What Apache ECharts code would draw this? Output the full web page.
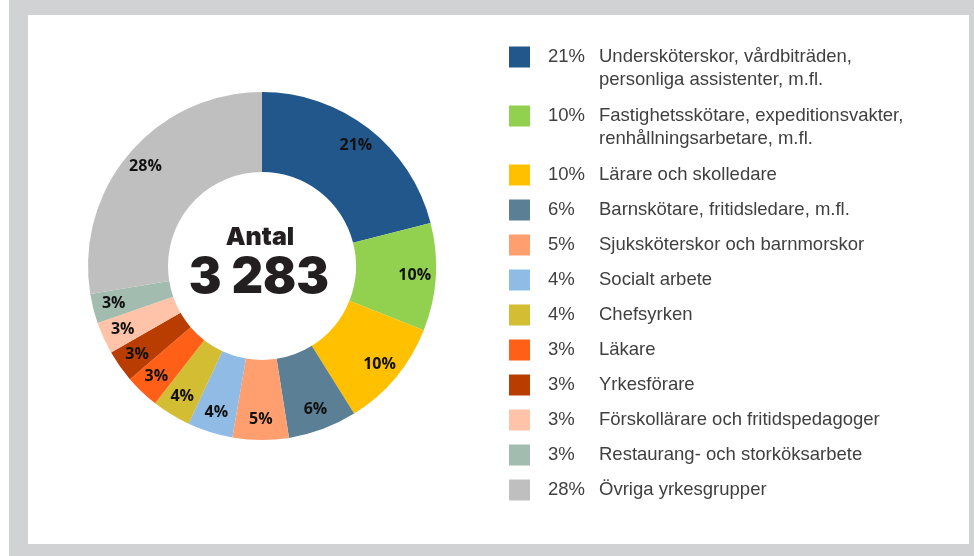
<!DOCTYPE html>
<html>
<head>
<meta charset="utf-8">
<script src="https://cdn.jsdelivr.net/npm/echarts@6/dist/echarts.min.js"></script>
<style>
  html, body { margin: 0; padding: 0; background: #fff; }
  #chart { width: 974px; height: 556px; }
</style>
</head>
<body>
<div id="chart"></div>
<script>
// yrkesgrupper, antal personer (totalt 3 283)
var categories = [
    'Undersköterskor, vårdbiträden,\npersonliga assistenter, m.fl.',
    'Fastighetsskötare, expeditionsvakter,\nrenhållningsarbetare, m.fl.',
    'Lärare och skolledare',
    'Barnskötare, fritidsledare, m.fl.',
    'Sjuksköterskor och barnmorskor',
    'Socialt arbete',
    'Chefsyrken',
    'Läkare',
    'Yrkesförare',
    'Förskollärare och fritidspedagoger',
    'Restaurang- och storköksarbete',
    'Övriga yrkesgrupper'
];
var values = [690, 328, 332, 210, 171, 138, 118, 105, 98, 98, 90, 905];
var colors = ['#22578b', '#92d050', '#ffc000', '#5b7f94', '#ff9e6e', '#8fbbe5',
              '#d3bd33', '#ff5f17', '#b93c00', '#ffc3a9', '#a2bcaf', '#bfbfbf'];
var centerTitle = 'Antal';

var total = values.reduce(function (a, b) { return a + b; }, 0);
function pct(v) { return Math.round(v / total * 100) + '%'; }
function fmtTotal(n) { return String(n).replace(/\B(?=(\d{3})+(?!\d))/g, ' '); }

var myChart = echarts.init(document.getElementById('chart'));

var pieData = categories.map(function (c, i) {
    return { name: c, value: values[i], itemStyle: { color: colors[i] } };
});

// ram + vit platta
var graphics = [
    { type: 'rect', silent: true, z: -10, shape: { x: 9, y: 0, width: 965, height: 556 }, style: { fill: '#d1d2d4' } },
    { type: 'rect', silent: true, z: -9, shape: { x: 28, y: 15, width: 941, height: 529 }, style: { fill: '#ffffff' } },
    { type: 'text', silent: true, x: 260, y: 237, style: {
        text: centerTitle, fill: '#231f20', font: '900 25px Inter', align: 'center', verticalAlign: 'middle' } },
    { type: 'text', silent: true, x: 259, y: 278, style: {
        text: fmtTotal(total), fill: '#231f20', font: '900 49px Inter', align: 'center', verticalAlign: 'middle' } }
];

// förklaring till höger
var y = 57;
categories.forEach(function (c, i) {
    var lines = c.split('\n').length;
    graphics.push({ type: 'rect', silent: true, shape: { x: 509, y: y - 10.5, width: 21, height: 21 },
        style: { fill: colors[i] } });
    graphics.push({ type: 'text', silent: true, x: 548, y: y, style: {
        text: pct(values[i]), fill: '#404040', font: '18.5px "Liberation Sans"', verticalAlign: 'middle' } });
    graphics.push({ type: 'text', silent: true, x: 599, y: y - 11.5, style: {
        text: c, fill: '#404040', font: '18.5px "Liberation Sans"', lineHeight: 23, verticalAlign: 'top' } });
    y += lines > 1 ? 59 : 35;
});

var option = {
    backgroundColor: '#ffffff',
    animation: false,
    graphic: graphics,
    series: [
        {
            type: 'pie',
            center: [262, 266],
            radius: [94, 174],
            startAngle: 90,
            clockwise: true,
            silent: true,
            itemStyle: { borderWidth: 0 },
            label: { show: false },
            labelLine: { show: false },
            data: pieData
        },
        {
            // bara etiketter, lite längre ut i ringen
            type: 'pie',
            center: [262, 266],
            radius: [126, 174],
            startAngle: 90,
            clockwise: true,
            silent: true,
            itemStyle: { color: 'rgba(0,0,0,0)', borderWidth: 0 },
            label: {
                show: true,
                position: 'inside',
                color: '#111',
                fontFamily: 'Open Sans',
                fontWeight: 'bold',
                fontSize: 16,
                formatter: function (p) { return pct(p.value); }
            },
            labelLine: { show: false },
            data: values.map(function (v, i) { return { name: categories[i], value: v }; })
        }
    ]
};
myChart.setOption(option);
window.onresize = myChart.resize;
</script>
</body>
</html>
